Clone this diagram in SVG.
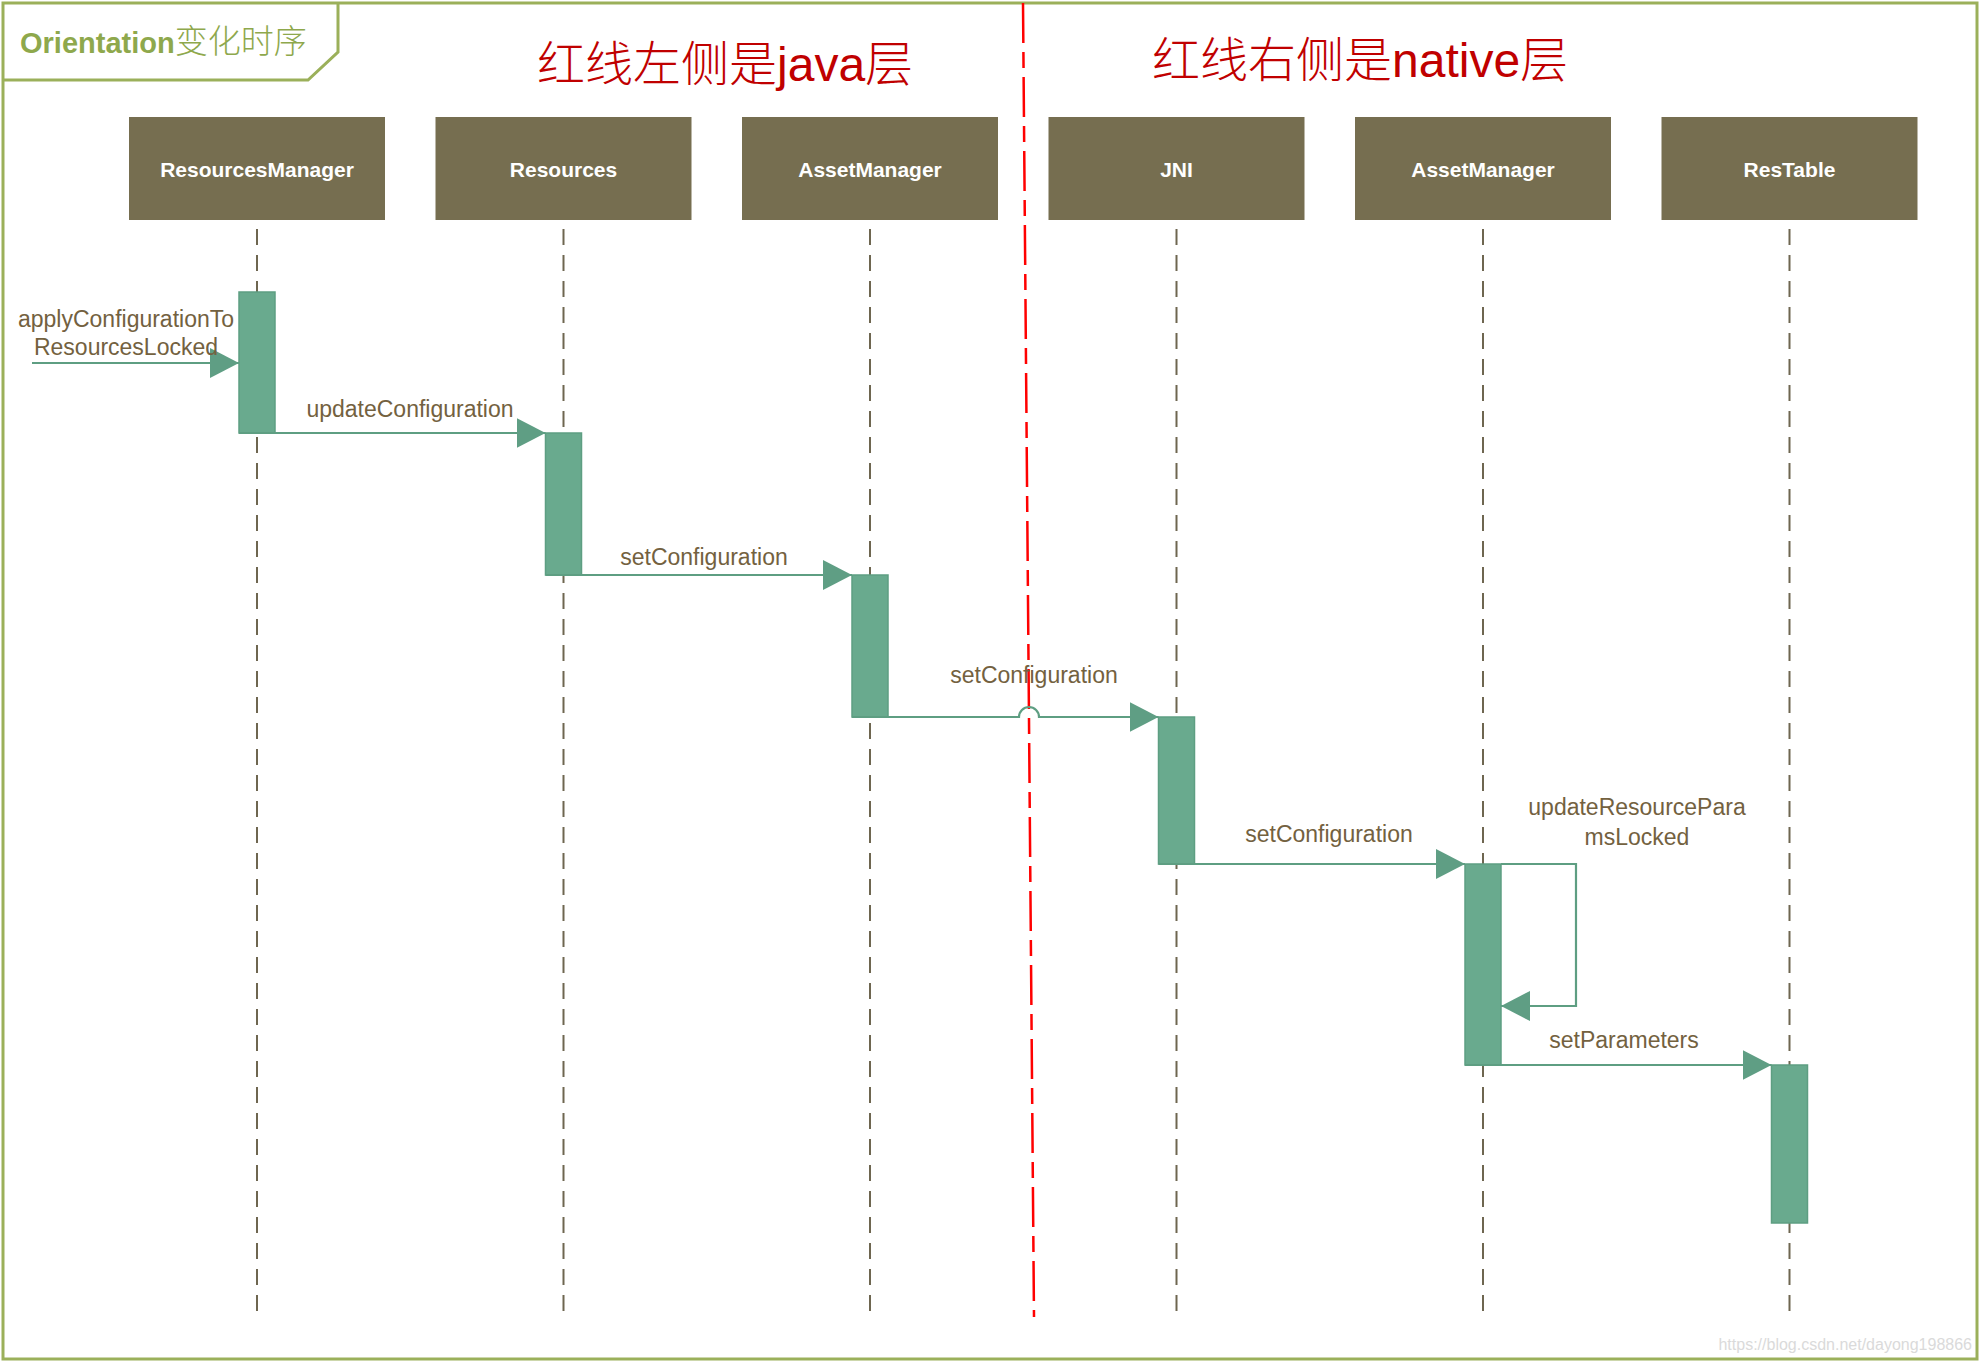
<svg xmlns="http://www.w3.org/2000/svg" width="1981" height="1363" viewBox="0 0 1981 1363">
<style>
.frame{fill:none;stroke:#9BB05A;stroke-width:3}
.head{fill:#766E50}
.htxt{font-family:"Liberation Sans",Arial,sans-serif;font-weight:bold;font-size:21px;fill:#FFFFFF;text-anchor:middle}
.life{stroke:#6E6650;stroke-width:2;stroke-dasharray:16 10;fill:none}
.bar{fill:#69AA8E;stroke:#5E9E82;stroke-width:1.5}
.msg{fill:none;stroke:#5E9E82;stroke-width:2.2}
.lbl{font-family:"Liberation Sans",Arial,sans-serif;font-size:23px;fill:#736140;text-anchor:middle}
.red{font-family:"Liberation Sans","Noto Sans CJK SC",sans-serif;font-size:48px;fill:#C00000;font-weight:normal}
.cjk{font-family:"Noto Sans CJK SC",sans-serif;font-weight:300}
</style>
<defs>
<marker id="arr" viewBox="0 0 29 30" refX="29" refY="15" markerWidth="29" markerHeight="30" markerUnits="userSpaceOnUse" orient="auto">
<path d="M0,0 L29,15 L0,30 Z" fill="#5F9E84"/>
</marker>
</defs>
<rect width="1981" height="1363" fill="#FFFFFF"/>
<rect class="frame" x="3" y="3" width="1974" height="1356"/>
<g id="title">
<path class="frame" d="M3,80 H308 L338,52 V3" stroke-width="2.5"/>
<text x="20" y="53" font-family="Liberation Sans,&quot;Noto Sans CJK SC&quot;,sans-serif" fill="#8EA84C"><tspan font-weight="bold" font-size="29">Orientation</tspan><tspan class="cjk" font-size="33">变化时序</tspan></text>
</g>
<g id="red-divider">
<line x1="1023" y1="3" x2="1034" y2="1317" stroke="#FF0000" stroke-width="2.5" stroke-dasharray="40 9 16 9"/>
</g>
<g id="heading-java">
<text class="red" x="537" y="81"><tspan class="cjk">红线左侧是</tspan>java<tspan class="cjk">层</tspan></text>
</g>
<g id="heading-native">
<text class="red" x="1152" y="77"><tspan class="cjk">红线右侧是</tspan>native<tspan class="cjk">层</tspan></text>
</g>
<g id="lifelines">
<line class="life" x1="257" y1="1311" x2="257" y2="222"/>
<line class="life" x1="563.5" y1="1311" x2="563.5" y2="222"/>
<line class="life" x1="870" y1="1311" x2="870" y2="222"/>
<line class="life" x1="1176.5" y1="1311" x2="1176.5" y2="222"/>
<line class="life" x1="1483" y1="1311" x2="1483" y2="222"/>
<line class="life" x1="1789.5" y1="1311" x2="1789.5" y2="222"/>
</g>
<g id="node-ResourcesManager">
<rect class="head" x="129" y="117" width="256" height="103"/>
<text class="htxt" x="257" y="177">ResourcesManager</text>
</g>
<g id="node-Resources">
<rect class="head" x="435.5" y="117" width="256" height="103"/>
<text class="htxt" x="563.5" y="177">Resources</text>
</g>
<g id="node-AssetManager-java">
<rect class="head" x="742" y="117" width="256" height="103"/>
<text class="htxt" x="870" y="177">AssetManager</text>
</g>
<g id="node-JNI">
<rect class="head" x="1048.5" y="117" width="256" height="103"/>
<text class="htxt" x="1176.5" y="177">JNI</text>
</g>
<g id="node-AssetManager-native">
<rect class="head" x="1355" y="117" width="256" height="103"/>
<text class="htxt" x="1483" y="177">AssetManager</text>
</g>
<g id="node-ResTable">
<rect class="head" x="1661.5" y="117" width="256" height="103"/>
<text class="htxt" x="1789.5" y="177">ResTable</text>
</g>
<g id="activations">
<rect class="bar" x="239" y="292" width="36" height="141"/>
<rect class="bar" x="545.5" y="433" width="36" height="142"/>
<rect class="bar" x="852" y="575" width="36" height="142"/>
<rect class="bar" x="1158.5" y="717" width="36" height="147"/>
<rect class="bar" x="1465" y="864" width="36" height="201"/>
<rect class="bar" x="1771.5" y="1065" width="36" height="158"/>
</g>
<g id="connectors">
<path class="msg" d="M32,363 H239" marker-end="url(#arr)"/>
<path class="msg" d="M239,433 H545.5" marker-end="url(#arr)"/>
<path class="msg" d="M545.5,575 H852" marker-end="url(#arr)"/>
<path class="msg" d="M852,717 H1019 A10,10 0 0 1 1039,717 H1158.5" marker-end="url(#arr)"/>
<path class="msg" d="M1158.5,864 H1465" marker-end="url(#arr)"/>
<path class="msg" d="M1501,864 H1576 V1006 H1501" marker-end="url(#arr)"/>
<path class="msg" d="M1465,1065 H1771.5" marker-end="url(#arr)"/>
</g>
<g id="labels">
<text class="lbl" x="126" y="327">applyConfigurationTo</text>
<text class="lbl" x="126" y="355">ResourcesLocked</text>
<text class="lbl" x="410" y="417">updateConfiguration</text>
<text class="lbl" x="704" y="565">setConfiguration</text>
<text class="lbl" x="1034" y="683">setConfiguration</text>
<text class="lbl" x="1329" y="842">setConfiguration</text>
<text class="lbl" x="1637" y="815">updateResourcePara</text>
<text class="lbl" x="1637" y="845">msLocked</text>
<text class="lbl" x="1624" y="1048">setParameters</text>
</g>
<text x="1972" y="1350" font-family="Liberation Sans,Arial,sans-serif" font-size="16" fill="#DADADA" text-anchor="end">https://blog.csdn.net/dayong198866</text>
</svg>
